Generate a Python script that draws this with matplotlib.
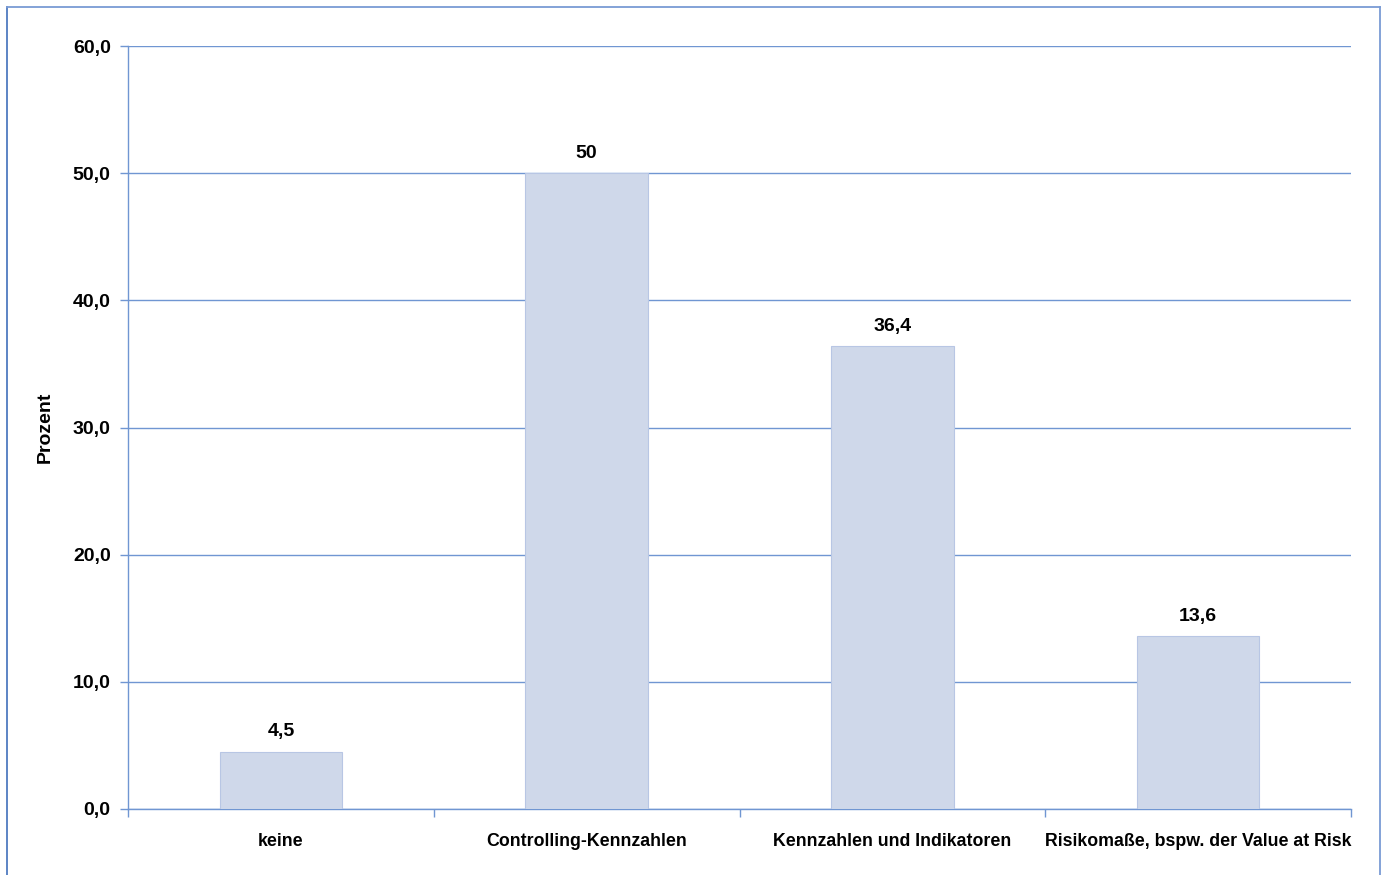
import matplotlib
matplotlib.use("Agg")
import matplotlib.pyplot as plt
from matplotlib.lines import Line2D
import numpy as np

# survey answers and shares in percent
categories = ["keine", "Controlling-Kennzahlen", "Kennzahlen und Indikatoren",
              "Risikomaße, bspw. der Value at Risk"]
values = [4.5, 50.0, 36.4, 13.6]
value_labels = ["4,5", "50", "36,4", "13,6"]
y_ticks = [0, 10, 20, 30, 40, 50, 60]

plt.rcParams['font.family'] = ['Liberation Sans', 'DejaVu Sans']

line_blue = '#7096d2'
bar_fill = '#cfd8ea'

fig = plt.figure(figsize=(13.86, 8.75), dpi=100)
ax = fig.add_axes([128 / 1386, 1 - 809 / 875, (1351 - 128) / 1386, (809 - 46) / 875])

x = np.arange(len(categories))
bars = ax.bar(x, values, width=0.4, color=bar_fill, edgecolor='#b8c6e4',
              linewidth=0.8, zorder=3)

for rect, lab in zip(bars, value_labels):
    ax.text(rect.get_x() + rect.get_width() / 2, rect.get_height() + 0.9, lab,
            ha='center', va='bottom', fontsize=14, fontweight='bold', color='black')

ax.set_xlim(-0.5, len(categories) - 0.5)
ax.set_ylim(0, 60)
ax.set_yticks(y_ticks)
ax.set_yticklabels([f"{v:.1f}".replace('.', ',') for v in y_ticks],
                   fontsize=14, fontweight='bold')
ax.yaxis.grid(True, color=line_blue, linewidth=1.0, zorder=0)

# category labels centred, tick marks on the boundaries
ax.set_xticks(np.arange(len(categories) + 1) - 0.5)
ax.set_xticklabels([])
ax.set_xticks(x, minor=True)
ax.set_xticklabels(categories, minor=True, fontsize=12.8, fontweight='bold')
ax.tick_params(axis='x', which='minor', length=0, pad=17)
ax.tick_params(axis='x', which='major', length=6, color=line_blue, width=1)
ax.tick_params(axis='y', length=6, color=line_blue, width=1, pad=6.5)

for side in ['top', 'right']:
    ax.spines[side].set_visible(False)
for side in ['left', 'bottom']:
    ax.spines[side].set_color(line_blue)
    ax.spines[side].set_linewidth(1.0)

ax.set_ylabel("Prozent", fontsize=14, fontweight='bold', labelpad=14)

# frame around the chart
fw, fh = 1386, 875
frame = '#4f7bc0'
fig.add_artist(Line2D([7 / fw, 7 / fw], [0, 1 - 7 / fh], color=frame, linewidth=1.3))
fig.add_artist(Line2D([1380 / fw, 1380 / fw], [0, 1 - 7 / fh], color='#7a9bd4', linewidth=1.3))
fig.add_artist(Line2D([7 / fw, 1380 / fw], [1 - 7 / fh, 1 - 7 / fh], color='#7a9bd4', linewidth=1.3))

fig.savefig("out.png", dpi=100)
